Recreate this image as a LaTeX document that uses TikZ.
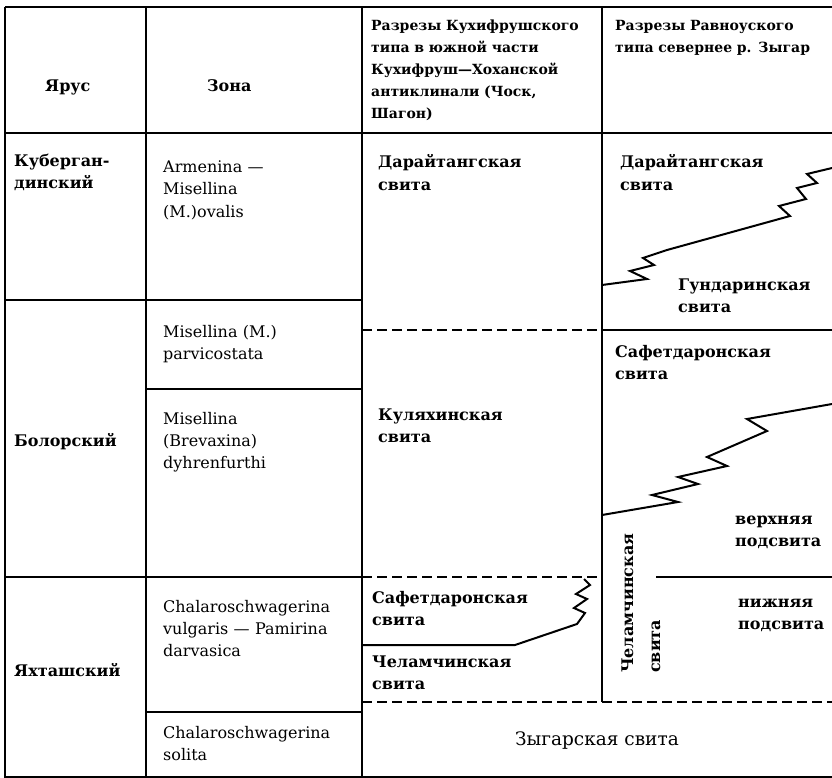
\documentclass[tikz,border=0pt]{standalone}
\usepackage{fontspec}
\setmainfont{DejaVu Serif}
\begin{document}
\begin{tikzpicture}[x=1pt,y=-1pt,
  rule/.style={line width=2pt},
  dashrule/.style={line width=2pt,dash pattern=on 10pt off 5pt},
  cyr/.style={font=\bfseries\fontsize{16}{22}\selectfont,anchor=base west,inner sep=0pt,text width=260pt,align=left},
  lat/.style={font=\fontsize{16}{22}\selectfont,anchor=base west,inner sep=0pt,text width=200pt,align=left},
  hdr/.style={font=\bfseries\fontsize{14}{22}\selectfont,anchor=base west,inner sep=0pt,text width=240pt,align=left}]
\useasboundingbox (0,0) rectangle (832,778);
% frame
\draw[rule] (5,7) -- (832,7);
\draw[rule] (5,133) -- (832,133);
\draw[rule] (5,7) -- (5,777) -- (832,777);
\draw[rule] (146,7) -- (146,777);
\draw[rule] (362,7) -- (362,777);
\draw[rule] (602,7) -- (602,702);
% rows
\draw[rule] (5,300) -- (362,300);
\draw[rule] (5,577) -- (362,577);
\draw[rule] (146,389) -- (362,389);
\draw[rule] (146,712) -- (362,712);
\draw[dashrule] (362,330) -- (602,330);
\draw[rule] (602,330) -- (832,330);
\draw[dashrule] (362,577) -- (602,577);
\draw[rule] (656,577) -- (832,577);
\draw[dashrule] (362,702) -- (832,702);
% zigzag column 3
\draw[rule,line join=miter] (584,579) -- (590,585) -- (576,594) -- (587,599) -- (574,608) -- (585,613) -- (577,624) -- (515,645) -- (362,645);
% upper zigzag column 4
\draw[rule,line join=miter] (602,285) -- (647,279) -- (630,271) -- (654,265) -- (643,258) -- (667,250) -- (790,216) -- (779,206) -- (806,199) -- (797,188) -- (817,183) -- (807,174) -- (832,168);
% lower zigzag column 4
\draw[rule,line join=miter] (602,515) -- (678,502) -- (652,495) -- (698,484) -- (678,477) -- (727,466) -- (707,457) -- (767,431) -- (747,419) -- (832,404);
% header
\node[cyr] (h1) at (45,92) {Ярус};
\node[cyr] (h2) at (207,92) {Зона};
\node[hdr] (h3) at (371,31) {Разрезы Кухифрушского\\типа в южной части\\Кухифруш—Хоханской\\антиклинали (Чоск,\\Шагон)};
\node[hdr] (h4) at (615,31) {Разрезы Равноуского\\типа севернее р. Зыгар};
% column 1
\node[cyr] (s1) at (14,167) {Куберган-\\динский};
\node[cyr] (s2) at (14,446) {Болорский};
\node[cyr] (s3) at (14,676) {Яхташский};
% column 2
\node[lat] (z1) at (163,173) {Armenina —\\Misellina\\(M.)ovalis};
\node[lat] (z2) at (163,337) {Misellina (M.)\\parvicostata};
\node[lat] (z3) at (163,424) {Misellina\\(Brevaxina)\\dyhrenfurthi};
\node[lat] (z4) at (163,612) {Chalaroschwagerina\\vulgaris — Pamirina\\darvasica};
\node[lat] (z5) at (163,738) {Chalaroschwagerina\\solita};
% column 3
\node[cyr] (a1) at (378,168) {Дарайтангская\\свита};
\node[cyr] (a2) at (378,420) {Куляхинская\\свита};
\node[cyr] (a3) at (372,603) {Сафетдаронская\\свита};
\node[cyr] (a4) at (372,667) {Челамчинская\\свита};
% column 4
\node[cyr] (b1) at (620,168) {Дарайтангская\\свита};
\node[cyr] (b2) at (678,290) {Гундаринская\\свита};
\node[cyr] (b3) at (615,357) {Сафетдаронская\\свита};
\node[cyr] (b4) at (735,524) {верхняя\\подсвита};
\node[cyr] (b5) at (738,607) {нижняя\\подсвита};
\node[cyr,text width=,rotate=90] (b6) at (633,673) {Челамчинская};
\node[cyr,text width=,rotate=90] (b7) at (660,673) {свита};
% bottom
\node[font=\fontsize{18.5}{22}\selectfont,anchor=base,inner sep=0pt] (c1) at (597,745) {Зыгарская свита};
\end{tikzpicture}
\end{document}
